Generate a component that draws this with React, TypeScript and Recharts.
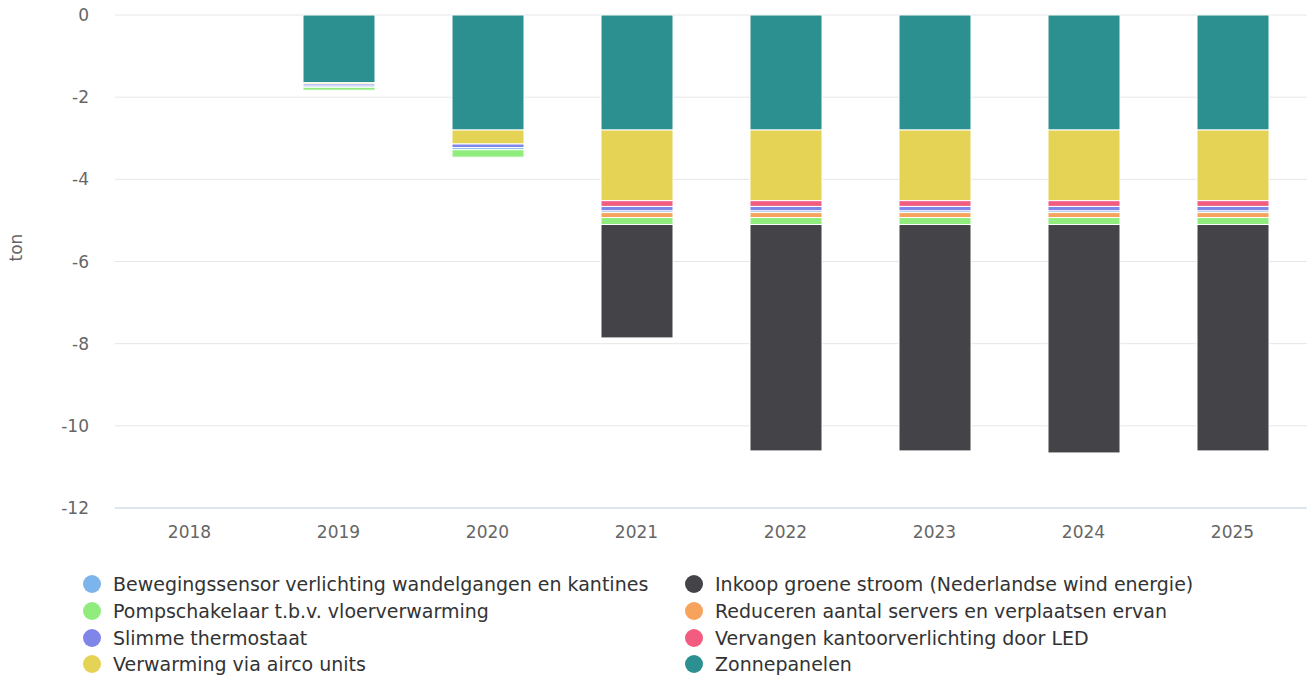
import React from 'react';
import { BarChart, Bar, XAxis, YAxis, CartesianGrid } from 'recharts';

// Years on the x axis
const years = ['2018', '2019', '2020', '2021', '2022', '2023', '2024', '2025'];

// Savings per measure (ton)
const zonnepanelen = [0, -1.65, -2.8, -2.8, -2.8, -2.8, -2.8, -2.8];
const verwarmingAirco = [0, -0.03, -0.34, -1.72, -1.72, -1.72, -1.72, -1.72];
const vervangenLed = [0, 0, 0, -0.14, -0.14, -0.14, -0.14, -0.14];
const slimmeThermostaat = [0, -0.05, -0.09, -0.11, -0.11, -0.11, -0.11, -0.11];
const bewegingssensor = [0, -0.03, -0.05, -0.04, -0.04, -0.04, -0.04, -0.04];
const reducerenServers = [0, 0, 0, -0.12, -0.12, -0.12, -0.12, -0.12];
const pompschakelaar = [0, -0.07, -0.18, -0.17, -0.17, -0.17, -0.17, -0.17];
const inkoopGroeneStroom = [0, 0, 0, -2.76, -5.51, -5.51, -5.56, -5.51];

const yTicks = [0, -2, -4, -6, -8, -10, -12];

const data = years.map((year, i) => ({
  year,
  zon: zonnepanelen[i],
  airco: verwarmingAirco[i],
  led: vervangenLed[i],
  thermo: slimmeThermostaat[i],
  sensor: bewegingssensor[i],
  servers: reducerenServers[i],
  pomp: pompschakelaar[i],
  inkoop: inkoopGroeneStroom[i],
}));

// stack order: first one sits against zero
const series = [
  { key: 'zon', name: 'Zonnepanelen', color: '#2b908f' },
  { key: 'airco', name: 'Verwarming via airco units', color: '#e4d354' },
  { key: 'led', name: 'Vervangen kantoorverlichting door LED', color: '#f15c80' },
  { key: 'thermo', name: 'Slimme thermostaat', color: '#8085e9' },
  { key: 'sensor', name: 'Bewegingssensor verlichting wandelgangen en kantines', color: '#7cb5ec' },
  { key: 'servers', name: 'Reduceren aantal servers en verplaatsen ervan', color: '#f7a35c' },
  { key: 'pomp', name: 'Pompschakelaar t.b.v. vloerverwarming', color: '#90ed7d' },
  { key: 'inkoop', name: 'Inkoop groene stroom (Nederlandse wind energie)', color: '#434348' },
];

const legendLeft = ['sensor', 'pomp', 'thermo', 'airco'];
const legendRight = ['inkoop', 'servers', 'led', 'zon'];

const font = '"DejaVu Sans", Verdana, sans-serif';

const LegendColumn: React.FC<{ keys: string[]; left: number }> = ({ keys, left }) => (
  <div style={{ position: 'absolute', left, top: 571 }}>
    {keys.map(k => {
      const s = series.find(x => x.key === k)!;
      return (
        <div key={k} style={{ display: 'flex', alignItems: 'center', height: 26.7, fontSize: 19, color: '#333' }}>
          <span style={{ width: 18, height: 18, borderRadius: 9, background: s.color, marginRight: 12, display: 'inline-block', flexShrink: 0 }} />
          <span>{s.name}</span>
        </div>
      );
    })}
  </div>
);

const App: React.FC = () => {
  return (
    <div style={{ position: 'fixed', left: 0, top: 0, width: 1307, height: 679, background: '#fff', fontFamily: font }}>
      <BarChart
        width={1307}
        height={548}
        data={data}
        margin={{ top: 15, right: 0, left: 0, bottom: 0 }}
      >
        <CartesianGrid vertical={false} stroke="#e6e6e6" />
        <XAxis
          dataKey="year"
          height={40}
          stroke="#ccd6eb"
          tickLine={false}
          tick={{ fill: '#666', fontSize: 17, fontFamily: font }}
          tickMargin={12}
        />
        <YAxis
          width={115}
          domain={[-12, 0]}
          ticks={yTicks}
          axisLine={false}
          tickLine={false}
          tick={{ fill: '#666', fontSize: 17, fontFamily: font }}
          tickMargin={20}
          label={{ value: 'ton', angle: -90, position: 'insideLeft', offset: 16, fill: '#666', fontSize: 17, fontFamily: font }}
        />
        {series.map(s => (
          <Bar
            key={s.key}
            dataKey={s.key}
            name={s.name}
            stackId="a"
            fill={s.color}
            stroke="#fff"
            strokeWidth={1}
            barSize={72}
            isAnimationActive={false}
          />
        ))}
      </BarChart>
      <LegendColumn keys={legendLeft} left={83} />
      <LegendColumn keys={legendRight} left={685} />
    </div>
  );
};

export default App;
